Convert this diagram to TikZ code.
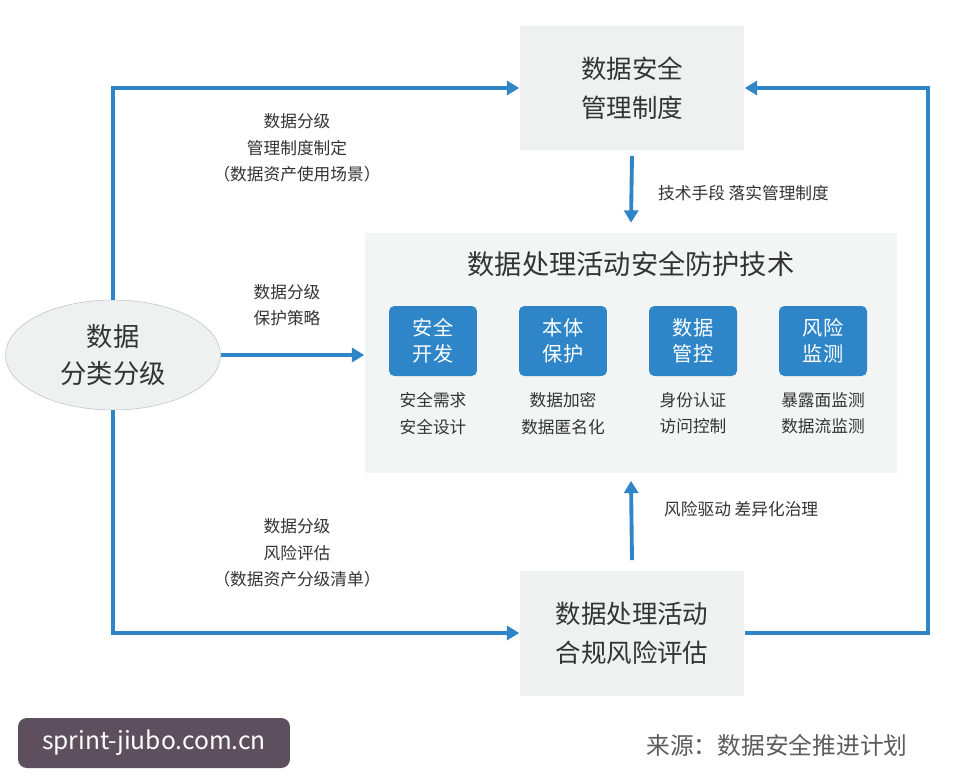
\documentclass[tikz,border=0pt]{standalone}
\usepackage{fontspec}
\setmainfont{Noto Sans CJK SC}
\usetikzlibrary{arrows.meta,positioning,shapes.geometric}
\definecolor{flowblue}{HTML}{2E86C8}
\definecolor{boxgray}{HTML}{EFF1F1}
\definecolor{tilegray}{HTML}{F3F4F4}
\definecolor{markgray}{HTML}{5E4F5F}
\definecolor{textdark}{HTML}{333333}

\begin{document}
\begin{tikzpicture}[x=0.02cm, y=-0.02cm,
  every node/.style={text=textdark, align=center},
  panel/.style={rectangle, fill=boxgray, minimum width=4.5cm, minimum height=2.5cm, font=\fontsize{14.5}{22}\selectfont},
  tile/.style={rectangle, rounded corners=3pt, fill=flowblue, minimum width=1.76cm, minimum height=1.4cm, text=white, font=\fontsize{11.5}{15}\selectfont},
  note/.style={font=\fontsize{9.5}{15}\selectfont},
  flow/.style={draw=flowblue, line width=2.2pt, -{Triangle[length=7pt,width=8pt]}}]

% canvas
\useasboundingbox (0,0) rectangle (977,782);
\fill[white] (0,0) rectangle (977,782);

% main boxes
\node[panel] (policy) at (632,88) {数据安全\\管理制度};
\node[panel] (assess) at (632,633) {数据处理活动\\合规风险评估};
\node[rectangle, fill=tilegray, minimum width=10.66cm, minimum height=4.8cm] (tech) at (631,353) {};
\node[font=\fontsize{15.5}{18}\selectfont, anchor=north] (techtitle) at ([yshift=-0.25cm]tech.north) {数据处理活动安全防护技术};
\node[ellipse, fill=boxgray, draw=boxgray!80!black, line width=0.3pt, minimum width=4.3cm, minimum height=2.2cm, font=\fontsize{15}{21}\selectfont] (grade) at (113,355) {数据\\分类分级};

% tiles inside
\node[tile] (t1) at (433,341) {安全\\开发};
\node[tile] (t2) at (563,341) {本体\\保护};
\node[tile] (t3) at (693,341) {数据\\管控};
\node[tile] (t4) at (823,341) {风险\\监测};
\node[note, below=0.2cm of t1] (l1) {安全需求\\安全设计};
\node[note, below=0.2cm of t2] (l2) {数据加密\\数据匿名化};
\node[note, below=0.2cm of t3] (l3) {身份认证\\访问控制};
\node[note, below=0.2cm of t4] (l4) {暴露面监测\\数据流监测};

% connectors
\draw[flow] (grade.north) |- (policy.west);
\draw[flow] (grade.east) -- (tech.west |- grade.east);
\draw[flow] (grade.south) |- (assess.west);
\draw[flow] (assess.east) -- ++(183,0) |- (policy.east);
\draw[flow] ([yshift=-0.1cm]policy.south) -- ([yshift=0.2cm]tech.north);
\draw[flow] ([yshift=0.2cm]assess.north) -- ([yshift=-0.15cm]tech.south);

% connector labels
\node[note] (n1) at (297,148) {数据分级\\管理制度制定\\（数据资产使用场景）};
\node[note] (n2) at (287,305) {数据分级\\保护策略};
\node[note] (n3) at (297,553) {数据分级\\风险评估\\（数据资产分级清单）};
\node[note, anchor=west] (n4) at (652,193) {技术手段 落实管理制度};
\node[note, anchor=west] (n5) at (658,509) {风险驱动 差异化治理};

% footer
\node[rectangle, rounded corners=5pt, fill=markgray, minimum width=5.44cm, minimum height=1cm, text=white, font=\fontsize{14}{16}\selectfont] (mark) at (154,743) {sprint-jiubo.com.cn};
\node[font=\fontsize{13.5}{16}\selectfont, text=textdark!80] (src) at (777,745) {来源：数据安全推进计划};

\end{tikzpicture}
\end{document}
